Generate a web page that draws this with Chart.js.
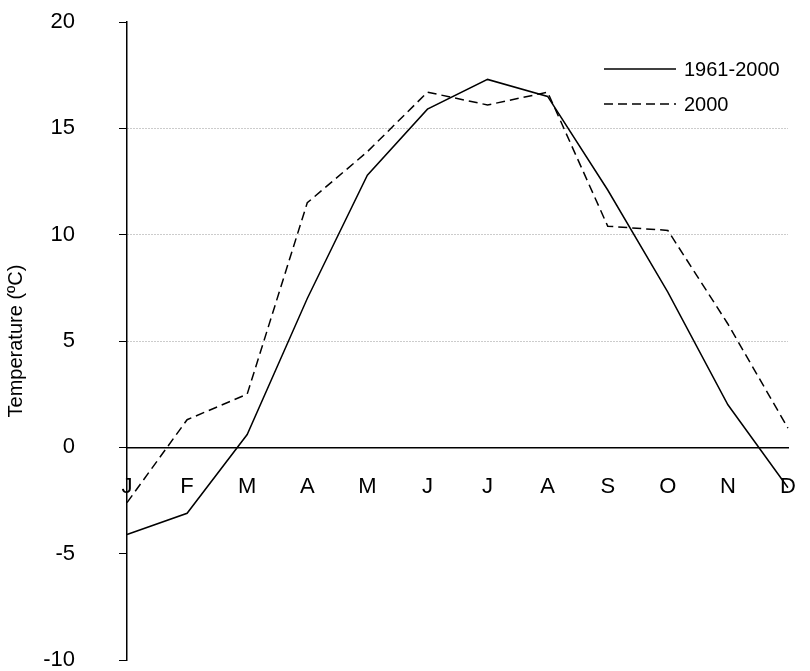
<!DOCTYPE html>
<html><head><meta charset="utf-8">
<script src="https://cdn.jsdelivr.net/npm/chart.js@4"></script>
<style>body{margin:0;background:#fff}#wrap{width:810px;height:671px}</style>
</head><body><div id="wrap"><canvas id="c"></canvas></div>
<script>
const months = ['J','F','M','A','M','J','J','A','S','O','N','D'];
const normal = [-4.1,-3.1,0.6,7.0,12.8,15.9,17.3,16.5,12.1,7.3,2.0,-1.9];
const year2000 = [-2.6,1.3,2.5,11.5,13.9,16.7,16.1,16.7,10.4,10.2,5.8,0.9];
const yTicks = [-10,-5,0,5,10,15,20];
const FONT = '"Liberation Sans", Arial';

const legendPlugin = {
  id: 'lineLegend',
  afterDraw(chart){
    const ctx = chart.ctx;
    ctx.save();
    ctx.font = '20px ' + FONT;
    ctx.fillStyle = '#000';
    ctx.textBaseline = 'middle';
    chart.data.datasets.forEach((ds, i) => {
      const y = 69 + i*35;
      ctx.strokeStyle = '#000';
      ctx.lineWidth = 1.5;
      ctx.setLineDash(ds.borderDash || []);
      ctx.beginPath(); ctx.moveTo(604, y); ctx.lineTo(676, y); ctx.stroke();
      ctx.setLineDash([]);
      ctx.fillText(ds.label, 684, y + 1);
    });
    ctx.restore();
  }
};

new Chart(document.getElementById('c'), {
  type: 'line',
  data: {
    labels: months,
    datasets: [
      {label: '1961-2000', data: normal, borderColor: '#000', borderWidth: 1.5, pointRadius: 0, tension: 0},
      {label: '2000', data: year2000, borderColor: '#000', borderWidth: 1.5, borderDash: [9,5], pointRadius: 0, tension: 0}
    ]
  },
  plugins: [legendPlugin],
  options: {
    responsive: true, maintainAspectRatio: false, animation: false,
    layout: {padding: {top: 22, right: 22, bottom: 11, left: 0}},
    plugins: {legend: {display: false}, tooltip: {enabled: false}},
    scales: {
      x: {
        position: {y: 0}, offset: false,
        afterFit: s => { s.height = 11; s.paddingLeft = 0; s.paddingRight = 0; },
        grid: {display: false},
        border: {color: '#000', width: 1.5},
        ticks: {color: '#000', font: {size: 22, family: FONT}, padding: 18}
      },
      y: {
        min: -10, max: 20,
        afterBuildTicks: s => { s.ticks = yTicks.map(v => ({value: v})); },
        afterFit: s => { s.width = 127; s.paddingTop = 0; s.paddingBottom = 0; },
        border: {color: '#000', width: 1.5, dash: [1,2]},
        grid: {
          tickLength: 8, tickColor: '#000',
          color: c => (c.tick && c.tick.value > 0 && c.tick.value < 20) ? '#999' : 'rgba(0,0,0,0)'
        },
        ticks: {color: '#000', font: {size: 22, family: FONT}, padding: 44},
        title: {display: true, text: 'Temperature (ºC)', color: '#000', font: {size: 20, family: FONT}, padding: {bottom: 12}}
      }
    }
  }
});
</script></body></html>
